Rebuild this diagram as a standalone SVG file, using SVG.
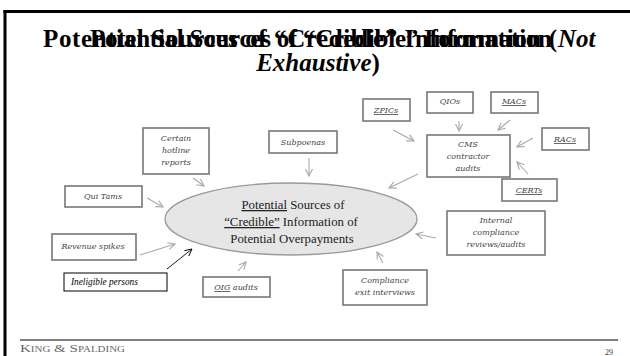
<svg xmlns="http://www.w3.org/2000/svg" width="630" height="356" viewBox="0 0 630 356">
<defs>
<style>
.bx{fill:#fff;stroke:#777;stroke-width:1.6}
.bt{font-family:"DejaVu Serif","Liberation Serif",serif;font-style:italic;font-size:8px;fill:#444;text-anchor:middle}
.u{text-decoration:underline}
.ar{stroke:#a8a8a8;stroke-width:1.1;fill:none;marker-end:url(#ah)}
.title{font-family:"Liberation Serif","Times New Roman",serif;font-weight:bold;font-size:25px;fill:#000}
.et{font-family:"Liberation Serif","Times New Roman",serif;font-size:12.8px;fill:#222;text-anchor:middle}
</style>
<marker id="ah" markerWidth="10" markerHeight="10" refX="8" refY="4" orient="auto" markerUnits="userSpaceOnUse">
<path d="M1,0.5 L8,4 L1,7.5" fill="none" stroke="#a8a8a8" stroke-width="1.1"/>
</marker>
<marker id="ahb" markerWidth="10" markerHeight="10" refX="8" refY="4" orient="auto" markerUnits="userSpaceOnUse">
<path d="M1,0.5 L8,4 L1,7.5" fill="none" stroke="#000" stroke-width="0.9"/>
</marker>
</defs>
<rect width="630" height="356" fill="#fff"/>
<!-- frame -->
<rect x="3.5" y="10" width="626.5" height="3" fill="#000"/>
<rect x="3.5" y="10" width="3" height="346" fill="#000"/>
<!-- title -->
<g id="title">
<text class="title" x="43" y="47" textLength="514" lengthAdjust="spacing">Potential Sources of “Credible” Information (</text>
<text class="title" x="90" y="47" textLength="462" lengthAdjust="spacing">Potential Sources of “Credible” Information</text>
<text class="title" x="558" y="47" font-style="italic">Not</text>
<text class="title" x="318" y="71" text-anchor="middle"><tspan font-style="italic">Exhaustive</tspan>)</text>
</g>
<!-- connectors -->
<g id="connectors">
<line class="ar" x1="193" y1="178" x2="204" y2="186"/>
<line class="ar" x1="147" y1="198" x2="163" y2="207"/>
<line class="ar" x1="309" y1="158" x2="309" y2="176"/>
<line class="ar" x1="140" y1="255" x2="175" y2="244"/>
<line x1="167" y1="269" x2="192" y2="249" stroke="#000" stroke-width="0.9" marker-end="url(#ahb)"/>
<line class="ar" x1="238" y1="271" x2="246" y2="262"/>
<line class="ar" x1="383" y1="263" x2="377" y2="252"/>
<line class="ar" x1="436" y1="238" x2="416" y2="234"/>
<line class="ar" x1="418" y1="174" x2="389" y2="188"/>
<line class="ar" x1="393" y1="130" x2="414" y2="141"/>
<line class="ar" x1="459" y1="121" x2="459" y2="131"/>
<line class="ar" x1="510" y1="120" x2="498" y2="130"/>
<line class="ar" x1="533" y1="138" x2="517" y2="147"/>
<line class="ar" x1="528" y1="174" x2="517" y2="162"/>
</g>
<!-- central ellipse -->
<g id="center">
<ellipse cx="291" cy="219" rx="126" ry="36" fill="#e6e6e6" stroke="#9a9a9a" stroke-width="1.3"/>
<text class="et" x="293" y="209"><tspan class="u">Potential</tspan> Sources of</text>
<text class="et" x="291" y="226"><tspan class="u">“Credible”</tspan> Information of</text>
<text class="et" x="292" y="243">Potential Overpayments</text>
</g>
<g id="hotline"><rect class="bx" x="143" y="128" width="66" height="46"/>
<text class="bt" x="176" y="141">Certain</text><text class="bt" x="176" y="153">hotline</text><text class="bt" x="176" y="165">reports</text></g>
<g id="subpoenas"><rect class="bx" x="269" y="131" width="68" height="22"/>
<text class="bt" x="303" y="145">Subpoenas</text></g>
<g id="quitams"><rect class="bx" x="65" y="186" width="77" height="21"/>
<text class="bt" x="103" y="199">Qui Tams</text></g>
<g id="revenue"><rect class="bx" x="52" y="234" width="84" height="26"/>
<text class="bt" x="93" y="249">Revenue spikes</text></g>
<g id="ineligible"><rect x="64" y="273" width="103" height="18" fill="#fff" stroke="#000" stroke-width="1"/>
<text x="71" y="285" font-family="Liberation Serif,serif" font-style="italic" font-size="9.3" fill="#000">Ineligible persons</text></g>
<g id="oig"><rect class="bx" x="203" y="277" width="67" height="20"/>
<text class="bt" x="236" y="290"><tspan class="u">OIG</tspan> audits</text></g>
<g id="exit"><rect class="bx" x="343" y="270" width="84" height="35"/>
<text class="bt" x="385" y="283">Compliance</text><text class="bt" x="385" y="295">exit interviews</text></g>
<g id="internal"><rect class="bx" x="447" y="211" width="98" height="44"/>
<text class="bt" x="496" y="223">Internal</text><text class="bt" x="496" y="235">compliance</text><text class="bt" x="496" y="247">reviews/audits</text></g>
<g id="cms"><rect class="bx" x="427" y="135" width="83" height="42"/>
<text class="bt" x="468" y="147">CMS</text><text class="bt" x="468" y="159">contractor</text><text class="bt" x="468" y="171">audits</text></g>
<g id="zpics"><rect class="bx" x="363" y="99" width="47" height="22"/>
<text class="bt u" x="386" y="113">ZPICs</text></g>
<g id="qios"><rect class="bx" x="427" y="92" width="46" height="21"/>
<text class="bt" x="450" y="104">QIOs</text></g>
<g id="macs"><rect class="bx" x="491" y="92" width="47" height="21"/>
<text class="bt u" x="514" y="104">MACs</text></g>
<g id="racs"><rect class="bx" x="542" y="128" width="47" height="22"/>
<text class="bt u" x="565" y="142">RACs</text></g>
<g id="certs"><rect class="bx" x="502" y="179" width="55" height="22"/>
<text class="bt u" x="529" y="193">CERTs</text></g>
<!-- footer -->
<line x1="20" y1="340" x2="618" y2="340" stroke="#000" stroke-width="1.2"/>
<text x="20" y="352" font-family="Liberation Serif,serif" font-size="11" font-variant="small-caps" fill="#666" textLength="105" lengthAdjust="spacingAndGlyphs">King &amp; Spalding</text>
<text x="605" y="355" font-family="Liberation Serif,serif" font-size="8" fill="#333">29</text>
</svg>
